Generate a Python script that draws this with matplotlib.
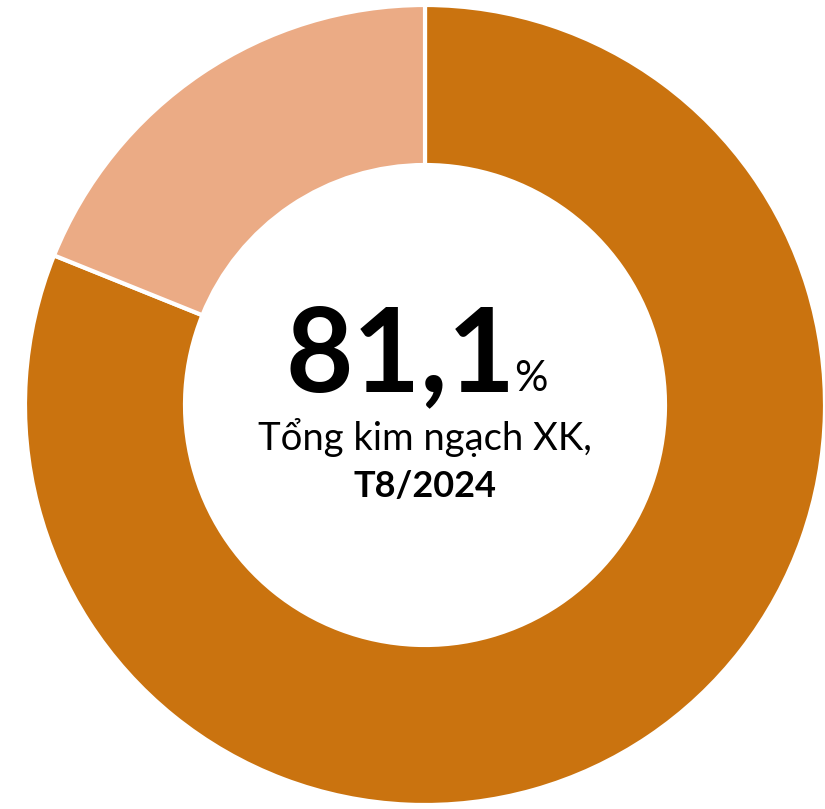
import matplotlib.pyplot as plt

# share of total export value, T8/2024
labels = ['Nhóm chính', 'Còn lại']
values = [81.1, 18.9]
colors = ['#CA730F', '#EBAB85']

big_value = '81,1'
subtitle = 'Tổng kim ngạch XK,'
period = 'T8/2024'

plt.rcParams['font.family'] = ['Lato', 'Noto Sans', 'DejaVu Sans']

fig = plt.figure(figsize=(8.25, 8.09), dpi=100)
ax = fig.add_axes([0, 0, 1, 1])

ax.pie(values, colors=colors, startangle=90, counterclock=False,
       center=(425, 404), radius=400,
       wedgeprops=dict(width=160, edgecolor='white', linewidth=3))

# pie() resets the limits, so set them afterwards
ax.set_xlim(0, 825)
ax.set_ylim(0, 809)
ax.set_aspect('equal')
ax.axis('off')

ax.text(401, 418, big_value, ha='center', va='baseline', fontsize=84,
        fontweight='bold', color='black')
ax.text(514, 418, '%', ha='left', va='baseline', fontsize=30, color='black')
ax.text(425, 359, subtitle, ha='center', va='baseline', fontsize=27.5, color='black')
ax.text(425, 312, period, ha='center', va='baseline', fontsize=26,
        fontweight='bold', color='black')

fig.savefig('out.png', dpi=100)
